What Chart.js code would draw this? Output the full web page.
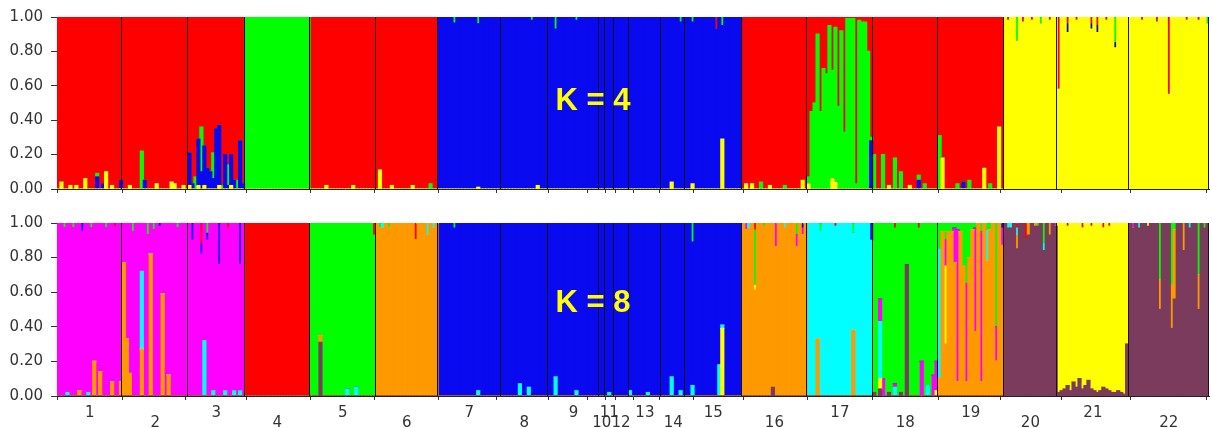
<!DOCTYPE html>
<html>
<head>
<meta charset="utf-8">
<script src="https://cdn.jsdelivr.net/npm/chart.js@4.4.1/dist/chart.umd.min.js"></script>
<style>
  body { margin: 0; background: #fff; }
  #wrap { position: relative; width: 1212px; height: 428px; }
  #top { position: absolute; left: 0; top: 0; }
  #bottom { position: absolute; left: 0; top: 206px; }
</style>
</head>
<body>
<div id="wrap">
  <canvas id="top" width="1212" height="206"></canvas>
  <canvas id="bottom" width="1212" height="222"></canvas>
</div>
<script>
// populations and number of individuals in each
const popLabels = ['1','2','3','4','5','6','7','8','9','10','11','12','13','14','15','16','17','18','19','20','21','22'];
const popSizes = [22, 22, 19, 22, 22, 21, 21, 16, 17, 2, 3, 5, 11, 8, 19, 22, 22, 22, 22, 18, 24, 27];

// K = 4, clusters in stacking order (bottom to top)
const k4Keys = ['y', 'b', 'g', 'r'];
const k4Colors = ['#ffff00', '#0a0af0', '#00ff00', '#ff0000'];
const k4Main = ['r','r','r','g','r','r','b','b','b','b','b','b','b','b','b','r','r','r','r','y','y','y'];
// admixed individuals: [population, individual, cluster, share]
const k4Admix = [
  [1,1,'y',0.04],[1,4,'y',0.02],[1,6,'y',0.02],[1,9,'y',0.06],[1,13,'b',0.07],[1,13,'g',0.02],
  [1,15,'b',0.03],[1,16,'y',0.1],[1,18,'y',0.02],[1,21,'b',0.05],
  [2,2,'y',0.02],[2,6,'g',0.22],[2,7,'b',0.05],[2,11,'y',0.03],[2,16,'y',0.04],[2,17,'y',0.03],[2,20,'y',0.02],
  [3,0,'b',0.19],[3,0,'y',0.02],[3,1,'b',0.03],[3,2,'g',0.07],[3,3,'b',0.27],[3,3,'y',0.02],
  [3,4,'b',0.1],[3,4,'g',0.26],[3,5,'b',0.23],[3,5,'y',0.02],[3,6,'b',0.12],[3,7,'b',0.1],
  [3,8,'b',0.06],[3,8,'g',0.15],[3,9,'b',0.35],[3,10,'b',0.35],[3,10,'y',0.02],[3,11,'g',0.02],
  [3,12,'b',0.2],[3,13,'g',0.12],[3,13,'b',0.02],[3,14,'b',0.18],[3,14,'y',0.02],[3,15,'b',0.05],
  [3,16,'g',0.05],[3,17,'b',0.28],[3,18,'b',0.03],
  [5,5,'y',0.02],[5,14,'y',0.02],
  [6,1,'y',0.11],[6,5,'y',0.02],[6,12,'y',0.02],[6,18,'g',0.03],
  [7,5,'g',0.035],[7,13,'g',0.04],[7,13,'y',0.01],
  [8,10,'g',0.02],[8,12,'y',0.02],
  [9,2,'g',0.07],[9,9,'g',0.02],
  [14,3,'y',0.04],[14,6,'g',0.03],
  [15,2,'g',0.03],[15,2,'y',0.03],[15,10,'r',0.07],[15,12,'y',0.29],[15,12,'g',0.05],
  [16,1,'y',0.03],[16,3,'y',0.03],[16,6,'g',0.04],[16,9,'y',0.02],[16,14,'g',0.02],[16,20,'y',0.05],
  [17,0,'g',0.04],[17,0,'y',0.03],[17,1,'g',0.45],[17,2,'g',0.5],[17,3,'g',0.9],[17,4,'g',0.45],
  [17,5,'g',0.7],[17,6,'g',0.67],[17,7,'g',0.95],[17,8,'g',0.63],[17,8,'y',0.06],[17,9,'g',0.9],
  [17,9,'y',0.04],[17,10,'g',0.48],[17,11,'g',0.92],[17,12,'g',0.33],[17,13,'g',0.99],[17,14,'g',0.99],
  [17,15,'g',0.99],[17,16,'g',0.03],[17,17,'g',0.98],[17,18,'g',0.97],[17,19,'g',0.97],[17,20,'g',0.8],
  [17,21,'g',0.02],[17,21,'b',0.28],
  [18,0,'g',0.2],[18,3,'g',0.2],[18,5,'y',0.02],[18,7,'g',0.18],[18,9,'g',0.1],[18,12,'y',0.02],
  [18,15,'b',0.05],[18,15,'g',0.03],[18,17,'g',0.03],
  [19,0,'g',0.31],[19,1,'y',0.18],[19,6,'g',0.03],[19,8,'b',0.04],[19,10,'g',0.05],[19,15,'y',0.12],
  [19,17,'g',0.03],[19,20,'y',0.36],
  [20,1,'r',0.02],[20,4,'g',0.14],[20,6,'r',0.03],[20,9,'r',0.02],[20,12,'g',0.04],[20,15,'r',0.02],
  [21,0,'r',0.42],[21,3,'b',0.05],[21,3,'r',0.04],[21,6,'r',0.02],[21,11,'b',0.03],[21,11,'r',0.04],
  [21,13,'b',0.04],[21,13,'r',0.05],[21,16,'r',0.02],[21,19,'g',0.15],[21,19,'b',0.03],
  [22,4,'r',0.02],[22,9,'r',0.03],[22,13,'r',0.45],[22,19,'r',0.02],[22,23,'r',0.02],[22,26,'g',0.04]
];

// K = 8, clusters in stacking order (bottom to top)
const k8Keys = ['mr', 'o', 'y', 'c', 'mg', 'b', 'g', 'r'];
const k8Colors = ['#7a3b5c', '#ff9900', '#ffff00', '#00ffff', '#ff00ff', '#0a0af0', '#00ff00', '#ff0000'];
const k8Main = ['mg','mg','mg','r','g','o','b','b','b','b','b','b','b','b','b','o','c','g','o','mr','y','mr'];
const k8Admix = [
  [1,2,'g',0.03],[1,3,'c',0.02],[1,5,'g',0.03],[1,7,'o',0.03],[1,8,'b',0.05],[1,10,'c',0.02],
  [1,11,'g',0.03],[1,12,'o',0.2],[1,14,'o',0.14],[1,16,'g',0.03],[1,18,'o',0.08],[1,19,'r',0.02],[1,21,'o',0.08],
  [2,0,'o',0.77],[2,1,'o',0.33],[2,2,'o',0.13],[2,3,'g',0.05],[2,6,'o',0.27],[2,6,'c',0.45],
  [2,8,'g',0.07],[2,9,'o',0.82],[2,10,'g',0.04],[2,12,'b',0.02],[2,13,'o',0.59],[2,15,'o',0.12],[2,18,'g',0.03],
  [3,1,'b',0.1],[3,4,'r',0.12],[3,4,'b',0.06],[3,5,'c',0.32],[3,6,'g',0.06],[3,6,'b',0.04],
  [3,8,'c',0.03],[3,10,'b',0.24],[3,12,'c',0.03],[3,13,'r',0.03],[3,15,'c',0.03],[3,17,'b',0.24],[3,17,'c',0.03],
  [5,3,'mr',0.31],[5,3,'o',0.04],[5,12,'c',0.04],[5,15,'c',0.05],[5,21,'r',0.07],
  [6,1,'g',0.03],[6,2,'c',0.03],[6,4,'g',0.03],[6,13,'r',0.1],[6,17,'c',0.07],[6,19,'c',0.03],
  [7,5,'g',0.03],[7,13,'c',0.03],
  [8,6,'c',0.07],[8,9,'c',0.05],
  [9,2,'c',0.11],[9,9,'c',0.03],
  [11,1,'c',0.02],
  [13,0,'c',0.03],[13,6,'c',0.02],
  [14,3,'c',0.11],[14,6,'c',0.03],
  [15,2,'c',0.06],[15,2,'g',0.11],[15,11,'c',0.18],[15,12,'y',0.39],[15,12,'c',0.02],
  [16,1,'mg',0.04],[16,2,'c',0.03],[16,4,'y',0.03],[16,4,'g',0.32],[16,4,'r',0.04],[16,7,'g',0.02],
  [16,10,'mr',0.05],[16,11,'mg',0.14],[16,14,'c',0.03],[16,18,'mg',0.07],[16,18,'g',0.07],
  [16,20,'mg',0.04],[16,20,'b',0.03],
  [17,3,'o',0.33],[17,4,'g',0.05],[17,9,'r',0.02],[17,15,'o',0.38],[17,15,'g',0.06],[17,21,'b',0.1],
  [18,0,'mr',0.02],[18,2,'mr',0.04],[18,2,'y',0.06],[18,2,'c',0.33],[18,2,'mg',0.13],[18,3,'mg',0.1],
  [18,5,'mr',0.02],[18,7,'c',0.05],[18,7,'mg',0.02],[18,7,'r',0.03],[18,9,'mr',0.02],[18,11,'mr',0.76],
  [18,15,'r',0.03],[18,16,'mg',0.2],[18,18,'c',0.06],[18,20,'mg',0.12],[18,21,'mg',0.17],[18,21,'y',0.03],
  [19,0,'o',0.05],[19,0,'c',0.75],[19,0,'g',0.15],[19,1,'g',0.05],[19,2,'y',0.45],[19,2,'mg',0.15],
  [19,2,'g',0.1],[19,3,'g',0.05],[19,4,'g',0.05],[19,5,'mg',0.2],[19,5,'g',0.03],[19,6,'mg',0.88],
  [19,6,'g',0.04],[19,7,'g',0.05],[19,8,'g',0.25],[19,9,'mg',0.57],[19,9,'g',0.35],[19,10,'g',0.2],
  [19,11,'g',0.04],[19,12,'mg',0.6],[19,12,'g',0.03],[19,14,'mg',0.87],[19,14,'g',0.05],[19,16,'c',0.18],
  [19,16,'g',0.04],[19,17,'g',0.04],[19,19,'mg',0.2],[19,19,'g',0.6],[19,21,'mg',0.1],[19,21,'b',0.03],
  [20,1,'c',0.03],[20,2,'c',0.03],[20,4,'o',0.08],[20,4,'c',0.04],[20,4,'r',0.03],[20,7,'r',0.09],
  [20,8,'o',0.07],[20,10,'o',0.02],[20,11,'g',0.02],[20,13,'g',0.12],[20,13,'c',0.04],[20,15,'o',0.07],[20,17,'mg',0.02],
  [21,0,'mr',0.02],[21,1,'mr',0.03],[21,2,'mr',0.04],[21,3,'mr',0.06],[21,3,'r',0.02],[21,4,'mr',0.03],
  [21,5,'mr',0.08],[21,6,'mr',0.05],[21,7,'mr',0.1],[21,8,'mr',0.04],[21,8,'r',0.03],[21,9,'mr',0.06],
  [21,10,'mr',0.09],[21,11,'mr',0.04],[21,11,'r',0.02],[21,12,'mr',0.03],[21,13,'mr',0.02],[21,14,'mr',0.03],
  [21,15,'mr',0.05],[21,15,'r',0.03],[21,16,'mr',0.04],[21,17,'mr',0.03],[21,17,'r',0.02],[21,18,'mr',0.02],
  [21,19,'mr',0.02],[21,20,'mr',0.03],[21,21,'mr',0.02],[21,22,'mr',0.01],[21,23,'mr',0.3],
  [22,1,'mg',0.03],[22,3,'c',0.03],[22,6,'y',0.02],[22,10,'o',0.17],[22,10,'g',0.33],[22,14,'o',0.25],
  [22,14,'g',0.36],[22,15,'o',0.4],[22,15,'g',0.04],[22,18,'o',0.16],[22,20,'c',0.03],[22,23,'o',0.2],
  [22,23,'g',0.3],[22,25,'g',0.03]
];

const yTicks = [0, 0.2, 0.4, 0.6, 0.8, 1.0];

// per-individual membership vectors
function buildQ(keys, main, rows) {
  const q = [];
  popSizes.forEach((n, p) => {
    for (let i = 0; i < n; i++) {
      const v = keys.map(() => 0);
      rows.forEach(r => {
        if (r[0] === p + 1 && r[1] === i) v[keys.indexOf(r[2])] += r[3];
      });
      const used = v.reduce((a, b) => a + b, 0);
      v[keys.indexOf(main[p])] += 1 - used;
      q.push(v);
    }
  });
  return q;
}

const total = popSizes.reduce((a, b) => a + b, 0);
const bounds = [];
const centers = [];
let acc = 0;
popSizes.forEach(n => { centers.push(acc + n / 2); acc += n; bounds.push(acc); });

const separators = {
  id: 'separators',
  afterDatasetsDraw(chart) {
    const { ctx, chartArea, scales } = chart;
    ctx.save();
    ctx.strokeStyle = '#141414';
    ctx.lineWidth = 1;
    bounds.forEach(b => {
      const x = Math.round(scales.x.getPixelForValue(b)) - 0.5;
      ctx.beginPath();
      ctx.moveTo(x, chartArea.top);
      ctx.lineTo(x, chartArea.bottom);
      ctx.stroke();
    });
    ctx.restore();
  }
};

const kLabel = {
  id: 'kLabel',
  afterDraw(chart, args, opts) {
    const ctx = chart.ctx;
    ctx.save();
    ctx.font = 'bold 31px "Liberation Sans", Arial, sans-serif';
    ctx.fillStyle = '#ffff00';
    ctx.textAlign = 'center';
    ctx.textBaseline = 'alphabetic';
    ctx.fillText(opts.text, opts.x, opts.y);
    ctx.restore();
  }
};

const yFont = { family: '"DejaVu Sans", sans-serif', size: 15 };
const xFont = { family: '"DejaVu Sans", sans-serif', size: 15, lineHeight: '10px' };

function makeChart(id, keys, colors, main, rows, opt) {
  const q = buildQ(keys, main, rows);
  const datasets = keys.map((k, c) => ({
    label: k,
    data: q.map((v, j) => ({ x: j + 0.5, y: v[c] })),
    backgroundColor: colors[c],
    borderWidth: 0,
    inflateAmount: 0.6,
    barPercentage: 1,
    categoryPercentage: 1
  }));
  return new Chart(document.getElementById(id), {
    type: 'bar',
    data: { datasets },
    options: {
      responsive: false,
      animation: false,
      devicePixelRatio: 1,
      layout: { padding: { top: opt.padTop, right: 3, left: 0, bottom: 0 } },
      plugins: {
        legend: { display: false },
        tooltip: { enabled: false },
        kLabel: { text: opt.text, x: 593, y: opt.textY }
      },
      scales: {
        x: {
          type: 'linear',
          offset: false,
          stacked: true,
          min: 0,
          max: total,
          afterBuildTicks(axis) { axis.ticks = centers.map(v => ({ value: v })); },
          afterFit(axis) { axis.height = opt.xHeight; },
          grid: { drawOnChartArea: false, drawTicks: true, tickLength: 4, color: '#333' },
          border: { display: true, color: '#222', width: 1 },
          ticks: {
            autoSkip: false,
            maxRotation: 0,
            padding: 8,
            color: '#333',
            font: xFont,
            // odd populations on the upper row, even ones one line lower
            callback: (v, i) => !opt.showLabels ? '' : (i % 2 === 0 ? [popLabels[i]] : [' ', popLabels[i]])
          }
        },
        y: {
          stacked: true,
          min: 0,
          max: 1,
          afterBuildTicks(axis) { axis.ticks = yTicks.map(v => ({ value: v })); },
          afterFit(axis) { axis.width = 57; },
          grid: { drawOnChartArea: false, drawTicks: true, tickLength: 6, color: '#333' },
          border: { display: true, color: '#222', width: 1 },
          ticks: {
            padding: 8,
            color: '#333',
            font: yFont,
            callback: v => v.toFixed(2)
          }
        }
      }
    },
    plugins: [separators, kLabel]
  });
}

makeChart('top', k4Keys, k4Colors, k4Main, k4Admix,
  { padTop: 16, xHeight: 7, text: 'K = 4', textY: 110, showLabels: false });
makeChart('bottom', k8Keys, k8Colors, k8Main, k8Admix,
  { padTop: 7, xHeight: 32, text: 'K = 8', textY: 106, showLabels: true });
</script>
</body>
</html>
